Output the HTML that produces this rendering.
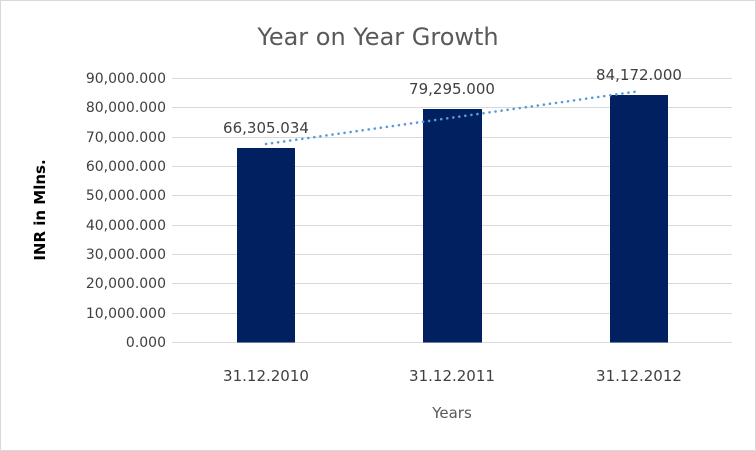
<!DOCTYPE html>
<html><head><style>
html,body{margin:0;padding:0;background:#fff;}
svg{display:block;}
text{font-family:"DejaVu Sans","Liberation Sans",sans-serif;fill:#404040;}
</style></head><body>
<svg width="756" height="451" viewBox="0 0 756 451">
<rect x="0.5" y="0.5" width="755" height="450" fill="#fff" stroke="#d9d9d9"/>
<text x="378" y="45" font-size="24" text-anchor="middle" style="fill:#595959">Year on Year Growth</text>
<g stroke="#d9d9d9" stroke-width="1">
<line x1="172" x2="732" y1="78.5" y2="78.5"/>
<line x1="172" x2="732" y1="107.5" y2="107.5"/>
<line x1="172" x2="732" y1="137.5" y2="137.5"/>
<line x1="172" x2="732" y1="166.5" y2="166.5"/>
<line x1="172" x2="732" y1="195.5" y2="195.5"/>
<line x1="172" x2="732" y1="225.5" y2="225.5"/>
<line x1="172" x2="732" y1="254.5" y2="254.5"/>
<line x1="172" x2="732" y1="283.5" y2="283.5"/>
<line x1="172" x2="732" y1="313.5" y2="313.5"/>
<line x1="172" x2="732" y1="342.5" y2="342.5"/>
</g>
<g font-size="14" text-anchor="end">
<text x="166" y="83">90,000.000</text>
<text x="166" y="112">80,000.000</text>
<text x="166" y="142">70,000.000</text>
<text x="166" y="171">60,000.000</text>
<text x="166" y="200">50,000.000</text>
<text x="166" y="230">40,000.000</text>
<text x="166" y="259">30,000.000</text>
<text x="166" y="288">20,000.000</text>
<text x="166" y="318">10,000.000</text>
<text x="166" y="347">0.000</text>
</g>
<g fill="#002060">
<rect x="237" y="148" width="58" height="194.5"/>
<rect x="423" y="109" width="59" height="233.5"/>
<rect x="610" y="95" width="58" height="247.5"/>
</g>
<line x1="266" y1="144" x2="637" y2="91.5" stroke="#5b9bd5" stroke-width="2.6" stroke-dasharray="0.1,6" stroke-linecap="round"/>
<g font-size="15" text-anchor="middle">
<text x="266" y="133">66,305.034</text>
<text x="452" y="94">79,295.000</text>
<text x="639" y="80">84,172.000</text>
</g>
<g font-size="15" text-anchor="middle">
<text x="266" y="381">31.12.2010</text>
<text x="452" y="381">31.12.2011</text>
<text x="639" y="381">31.12.2012</text>
</g>
<text x="452" y="418" font-size="15" text-anchor="middle" style="fill:#595959">Years</text>
<text transform="translate(45,210) rotate(-90)" font-size="15" font-weight="bold" text-anchor="middle" style="fill:#000">INR in Mlns.</text>
</svg>
</body></html>
